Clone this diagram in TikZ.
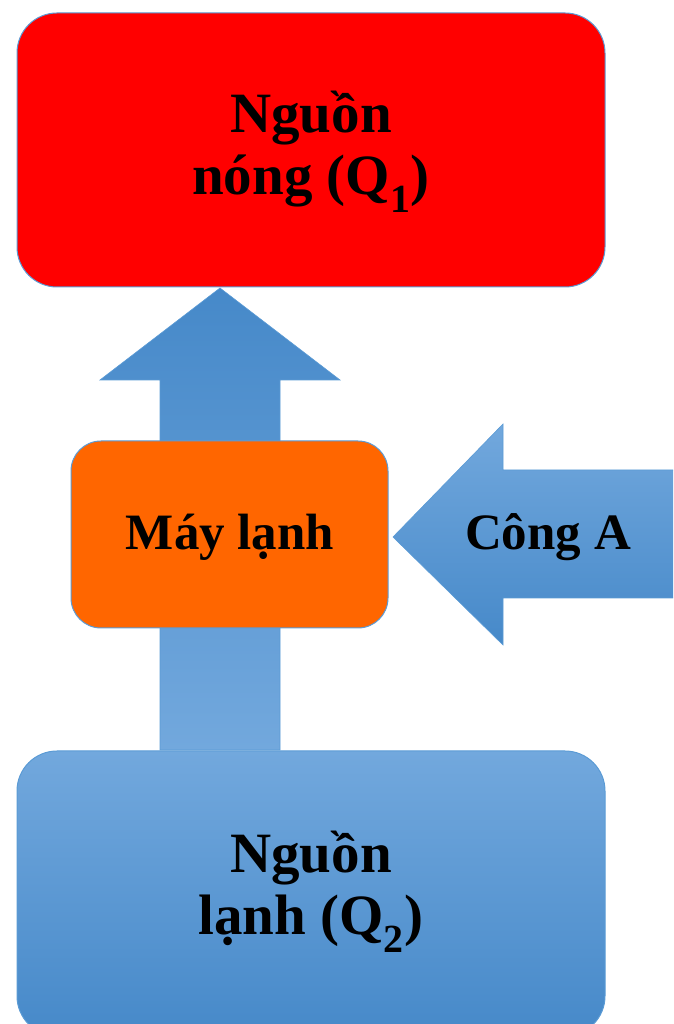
\documentclass[tikz,border=0pt]{standalone}
\usepackage{fontspec}
\setmainfont{Liberation Serif}
\definecolor{hotred}{HTML}{FF0000}
\definecolor{machorange}{HTML}{FF6600}
\definecolor{edgeblue}{HTML}{5B9BD5}
\definecolor{lightblue}{HTML}{72A8DD}
\definecolor{darkblue}{HTML}{4689C9}
\tikzset{
  boxedge/.style={draw=edgeblue, line width=1pt},
  bigtext/.style={font=\bfseries\fontsize{57}{62}\selectfont, align=center, inner sep=0pt},
  midtext/.style={font=\bfseries\fontsize{51}{56}\selectfont, inner sep=0pt},
  blockarrow/.style={draw=edgeblue, line width=0.6pt, line join=miter},
}
\begin{document}
\begin{tikzpicture}[x=1pt,y=1pt]
\clip (0,0) rectangle (673,1024);
\useasboundingbox (0,0) rectangle (673,1024);
% hot source
\draw[boxedge, fill=hotred, rounded corners=40pt] (17,1011) rectangle (605,737);
\node[bigtext] (hot) at (311,872) {Nguồn\\nóng (Q\textsubscript{1})};
% upward block arrow (behind machine)
\draw[blockarrow, bottom color=lightblue, top color=darkblue]
  (160,274) -- (280,274) -- (280,644) -- (340,644) -- (220,736) -- (100,644) -- (160,644) -- cycle;
% machine
\draw[boxedge, fill=machorange, rounded corners=30pt] (71,583) rectangle (388,396);
\node[midtext] (mach) at (230,487) {Máy lạnh};
% work arrow
\draw[blockarrow, top color=lightblue, bottom color=darkblue]
  (393,487) -- (503,600) -- (503,554) -- (680,554) -- (680,426) -- (503,426) -- (503,379) -- cycle;
\node[midtext] (work) at (548,487) {Công A};
% cold source
\draw[boxedge, top color=lightblue, bottom color=darkblue, rounded corners=40pt] (17,273) rectangle (605,-12);
\node[bigtext] (cold) at (311,132) {Nguồn\\lạnh (Q\textsubscript{2})};
\end{tikzpicture}
\end{document}
